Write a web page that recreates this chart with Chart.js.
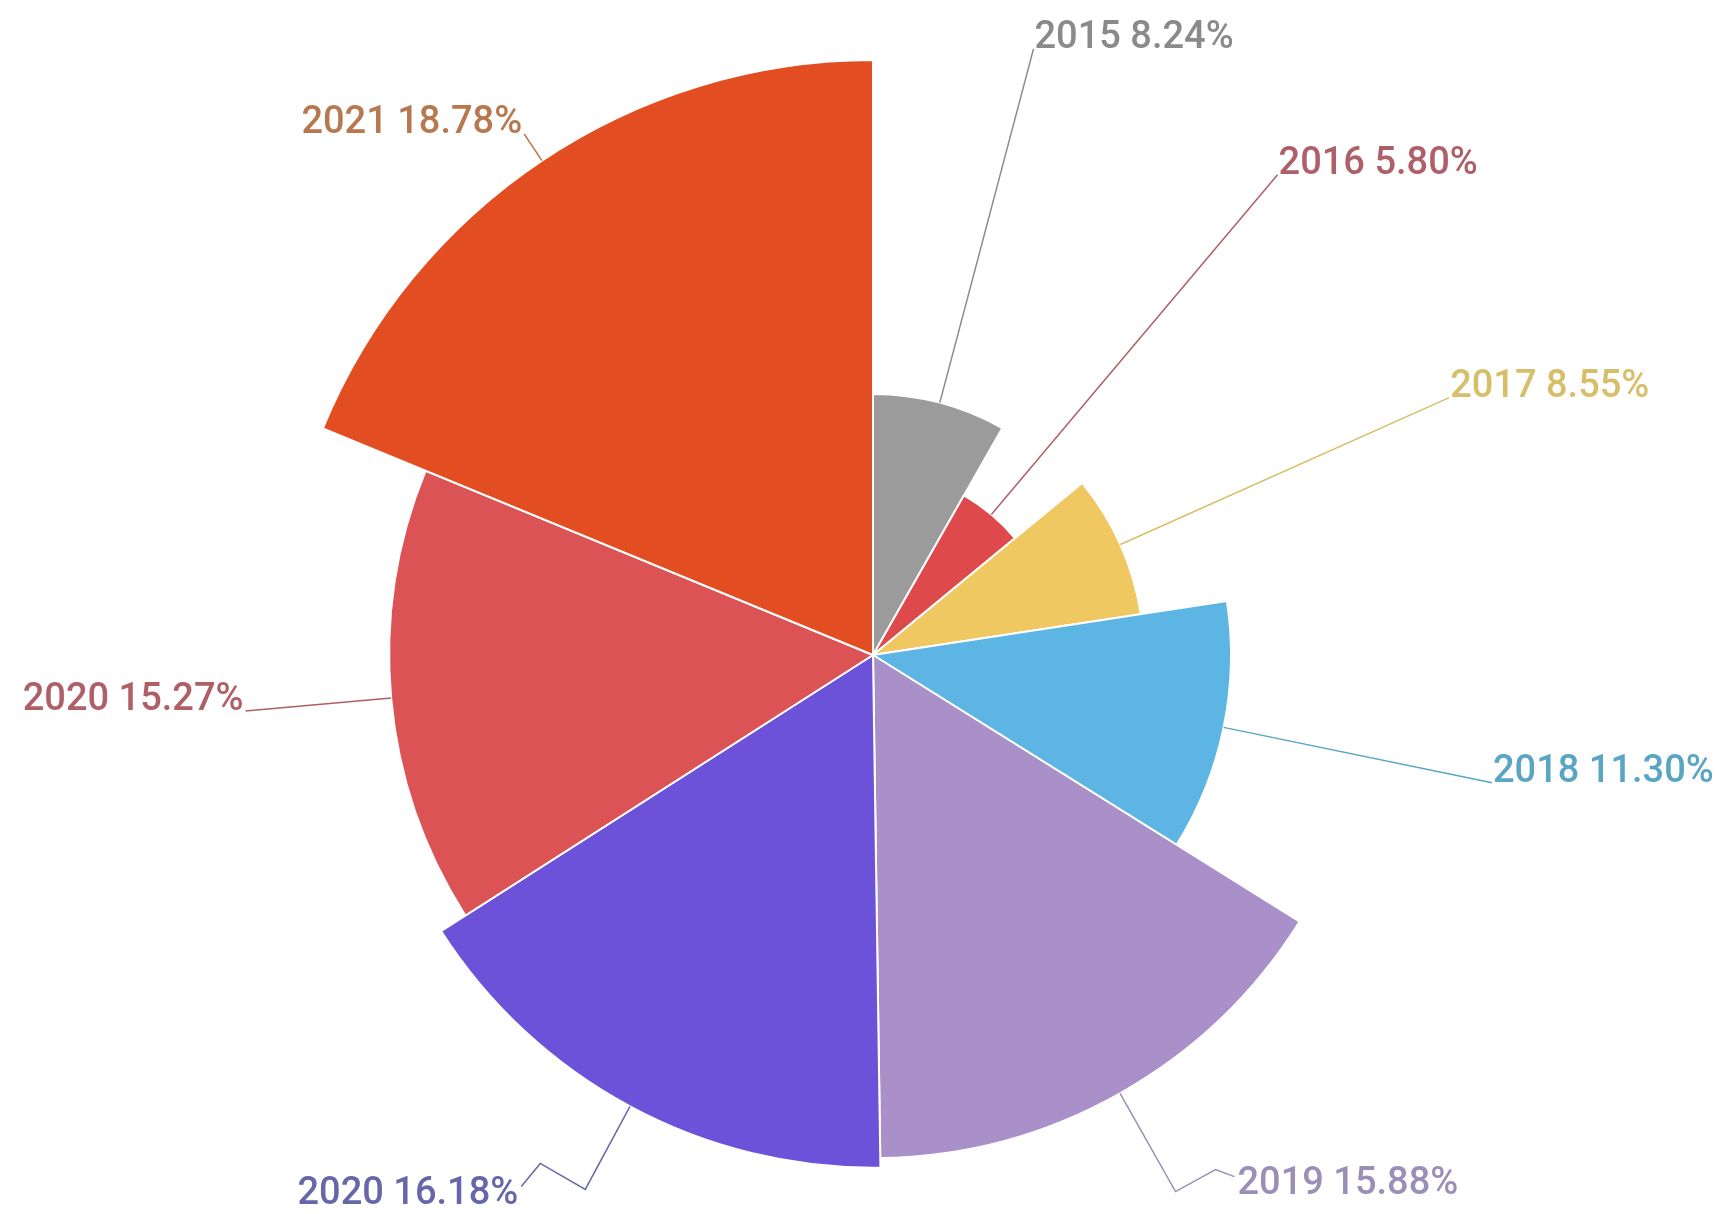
<!DOCTYPE html>
<html>
<head>
<meta charset="utf-8">
<script src="https://cdn.jsdelivr.net/npm/chart.js@4/dist/chart.umd.min.js"></script>
<style>
  html, body { margin: 0; padding: 0; background: #ffffff; }
  #wrap { width: 1726px; height: 1214px; position: relative; }
</style>
</head>
<body>
<div id="wrap"><canvas id="roseChart"></canvas></div>
<script>
// Rose pie: slice angle and slice radius both follow the share

const years = ['2015', '2016', '2017', '2018', '2019', '2020', '2020', '2021'];
const shares = [8.24, 5.80, 8.55, 11.30, 15.88, 16.18, 15.27, 18.78];

const sliceColors = ['#9b9b9b', '#de4a4c', '#efc862', '#5cb5e3', '#aa90c8', '#6b52d8', '#dc5356', '#e34d22'];
const labelColors = ['#8a8a8a', '#ae5f68', '#d6bf68', '#58a6c4', '#9a8fb6', '#6766a8', '#ae6066', '#b8784f'];

// label line: how far past the biggest slice the radial part reaches, then extra bends
const labelReach = [32, 33, 36, 37, 21, 12, 35, 32];
const labelBends = [[], [], [], [], [[40, -22], [19, 7]], [[-45, -26], [-19, 23]], [], []];

const leaderLabels = {
    id: 'leaderLabels',
    afterDatasetsDraw(chart) {
        const ctx = chart.ctx;
        const arcs = chart.getDatasetMeta(0).data;
        const maxR = Math.max(...arcs.map(a => a.outerRadius));
        ctx.save();
        ctx.font = '500 38px Roboto';
        ctx.lineWidth = 1.5;
        arcs.forEach((arc, i) => {
            const { x, y, startAngle, endAngle, outerRadius } =
                arc.getProps(['x', 'y', 'startAngle', 'endAngle', 'outerRadius'], true);
            const mid = (startAngle + endAngle) / 2;
            const cos = Math.cos(mid), sin = Math.sin(mid);
            const reach = maxR + labelReach[i];
            const pts = [
                [x + cos * outerRadius, y + sin * outerRadius],
                [x + cos * reach, y + sin * reach]
            ];
            labelBends[i].forEach(([dx, dy]) => {
                const p = pts[pts.length - 1];
                pts.push([p[0] + dx, p[1] + dy]);
            });

            ctx.strokeStyle = labelColors[i];
            ctx.beginPath();
            ctx.moveTo(pts[0][0], pts[0][1]);
            pts.slice(1).forEach(p => ctx.lineTo(p[0], p[1]));
            ctx.stroke();

            const end = pts[pts.length - 1];
            const right = end[0] >= x;
            ctx.fillStyle = labelColors[i];
            ctx.textAlign = right ? 'left' : 'right';
            const text = years[i] + ' ' + shares[i].toFixed(2) + '%';
            if (labelBends[i].length) {
                ctx.textBaseline = 'middle';
                ctx.fillText(text, end[0] + (right ? 3 : -3), end[1] + 8);
            } else {
                ctx.textBaseline = 'alphabetic';
                ctx.fillText(text, end[0] + (right ? 1 : -2), end[1] - 1);
            }
        });
        ctx.restore();
    }
};

// chart area is a 1080px square; biggest slice should reach 595px
const rMax = Math.max(...shares) * 540 / 595;

const ctx = document.getElementById('roseChart').getContext('2d');
const roseChart = new Chart(ctx, {
    type: 'polarArea',
    data: {
        labels: years,
        datasets: [{
            data: shares,
            angle: (c) => shares[c.dataIndex] * 3.6,
            backgroundColor: sliceColors,
            borderColor: '#ffffff',
            borderWidth: 2
        }]
    },
    options: {
        responsive: true,
        maintainAspectRatio: false,
        animation: false,
        layout: {
            padding: { left: 333, right: 313, top: 115, bottom: 19 }
        },
        scales: {
            r: {
                type: 'radialLinear',
                display: false,
                min: 0,
                max: rMax,
                startAngle: 0
            }
        },
        plugins: {
            legend: { display: false },
            tooltip: { enabled: false }
        }
    },
    plugins: [leaderLabels]
});
</script>
</body>
</html>
